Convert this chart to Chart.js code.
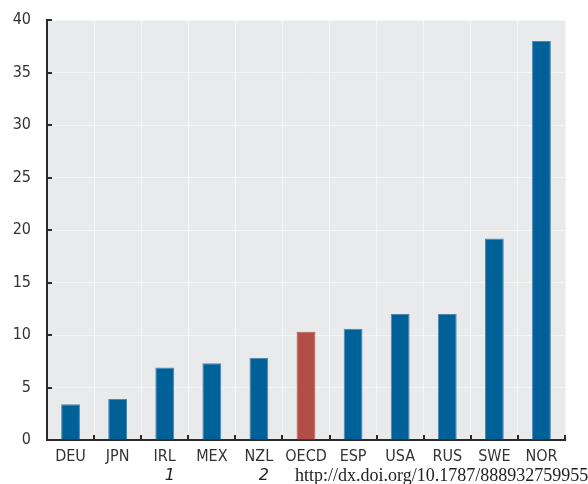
<!DOCTYPE html>
<html>
<head>
<meta charset="utf-8">
<script src="https://cdn.jsdelivr.net/npm/chart.js@4"></script>
<style>
  html, body { margin: 0; padding: 0; background: #fff; }
  #wrap { width: 588px; height: 484px; position: relative; }
</style>
</head>
<body>
<div id="wrap"><canvas id="chart" width="588" height="484"></canvas></div>
<script>
const COUNTRIES = ["DEU", "JPN", "IRL", "MEX", "NZL", "OECD", "ESP", "USA", "RUS", "SWE", "NOR"];
const VALUES = [3.4, 3.9, 6.9, 7.3, 7.8, 10.3, 10.6, 12.0, 12.0, 19.2, 38.0];
const Y_TICKS = [0, 5, 10, 15, 20, 25, 30, 35, 40];
const NOTES = { IRL: "1", NZL: "2" };
const SOURCE_LINK = "http://dx.doi.org/10.1787/888932759955";

const BLUE = "#006098";
const RED = "#b24e45";
const LABEL_FONT = "'DejaVu Sans Condensed', 'Liberation Sans Narrow', 'Arial Narrow', sans-serif";

const barColors = COUNTRIES.map((c) => (c === "OECD" ? RED : BLUE));
const barBorders = COUNTRIES.map((c) => (c === "OECD" ? "#b85a52" : "#4d86b3"));

// grey plot background + inward tick marks + footnotes
const decorations = {
  id: "decorations",
  beforeDraw(chart) {
    const { ctx, chartArea: a } = chart;
    ctx.save();
    ctx.fillStyle = "#e9eaec";
    ctx.fillRect(a.left, a.top, a.right - a.left, a.bottom - a.top);
    ctx.restore();
  },
  afterDraw(chart) {
    const { ctx, chartArea: a, scales } = chart;
    ctx.save();
    ctx.strokeStyle = "#2b2b2b";
    ctx.lineWidth = 2;
    ctx.beginPath();
    for (const v of Y_TICKS) {
      const y = Math.round(scales.y.getPixelForValue(v));
      ctx.moveTo(a.left, y);
      ctx.lineTo(a.left + 5, y);
    }
    for (let i = 0; i <= COUNTRIES.length; i++) {
      const x = Math.round(scales.x.getPixelForValue(i - 0.5));
      ctx.moveTo(x, a.bottom);
      ctx.lineTo(x, a.bottom - 5);
    }
    ctx.stroke();

    ctx.fillStyle = "#222";
    ctx.textBaseline = "middle";
    ctx.textAlign = "center";
    ctx.font = "italic 16px 'DejaVu Sans', sans-serif";
    COUNTRIES.forEach((c, i) => {
      if (NOTES[c]) ctx.fillText(NOTES[c], scales.x.getPixelForValue(i) + 5, 476);
    });
    ctx.textAlign = "left";
    ctx.font = "18px 'Liberation Serif', 'Times New Roman', serif";
    ctx.fillText(SOURCE_LINK, 295, 476);
    ctx.restore();
  },
};

new Chart(document.getElementById("chart"), {
  type: "bar",
  data: {
    labels: COUNTRIES,
    datasets: [
      {
        data: VALUES,
        backgroundColor: barColors,
        borderColor: barBorders,
        borderWidth: 1,
        barPercentage: 0.4,
        categoryPercentage: 1,
      },
    ],
  },
  options: {
    responsive: false,
    animation: false,
    layout: { padding: { top: 20, right: 23, left: 0, bottom: 0 } },
    plugins: { legend: { display: false }, tooltip: { enabled: false } },
    scales: {
      x: {
        offset: true,
        grid: { color: "#f5f5f6", lineWidth: 1, offset: true, drawTicks: false },
        border: { color: "#2b2b2b", width: 2 },
        ticks: { color: "#333", font: { family: LABEL_FONT, size: 16 }, padding: 7, maxRotation: 0 },
        afterFit: (s) => {
          s.height = 44;
          s.paddingLeft = 0;
          s.paddingRight = 0;
        },
      },
      y: {
        min: 0,
        max: 40,
        afterBuildTicks: (s) => { s.ticks = Y_TICKS.map((v) => ({ value: v })); },
        grid: { color: "#f5f5f6", lineWidth: 1, drawTicks: false },
        border: { color: "#2b2b2b", width: 2 },
        ticks: { color: "#333", font: { family: LABEL_FONT, size: 16 }, padding: 16 },
        afterFit: (s) => {
          s.width = 47;
          s.paddingTop = 0;
          s.paddingBottom = 0;
        },
      },
    },
  },
  plugins: [decorations],
});
</script>
</body>
</html>
